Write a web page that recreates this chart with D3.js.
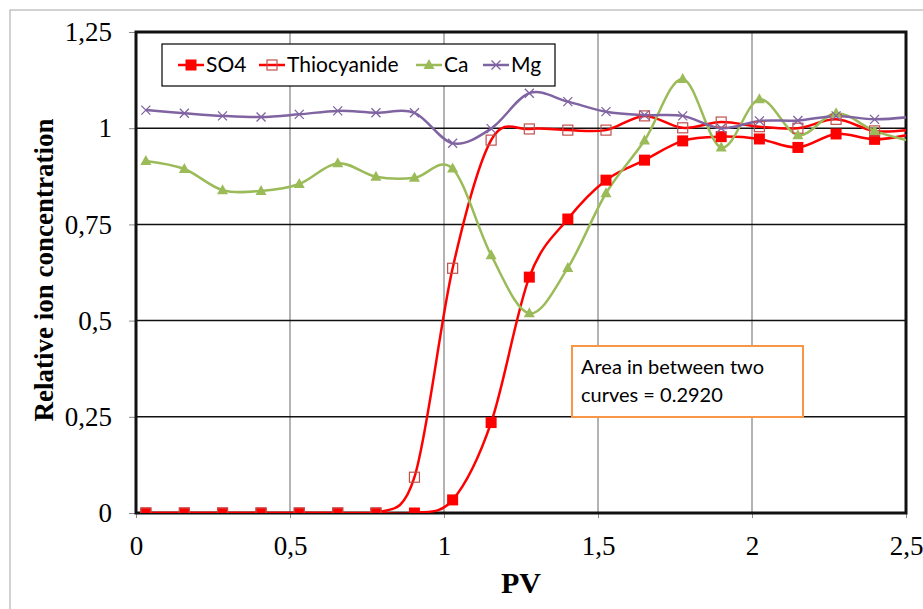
<!DOCTYPE html>
<html>
<head>
<meta charset="utf-8">
<script src="https://cdn.jsdelivr.net/npm/d3@7"></script>
<style>
  body { margin: 0; background: #fff; }
  svg { display: block; }
</style>
</head>
<body>
<svg id="chart" width="923" height="609"></svg>
<script>
// PV values of the sampled points (last one lies just past the axis end)
const pv = [0.032, 0.157, 0.281, 0.406, 0.530, 0.655, 0.779, 0.904, 1.028, 1.153,
            1.277, 1.402, 1.526, 1.651, 1.775, 1.900, 2.024, 2.149, 2.273, 2.398, 2.522];

const so4  = [0, 0, 0, 0, 0, 0, 0, 0, 0.034, 0.235, 0.613, 0.764, 0.865, 0.917, 0.967,
              0.978, 0.972, 0.950, 0.985, 0.971, 0.985];
const thio = [0, 0, 0, 0, 0, 0, 0, 0.093, 0.636, 0.969, 0.998, 0.995, 0.995, 1.032, 1.001,
              1.016, 1.004, 1.000, 1.023, 0.993, 0.997];
const ca   = [0.915, 0.894, 0.839, 0.837, 0.855, 0.909, 0.874, 0.871, 0.895, 0.670, 0.519,
              0.637, 0.831, 0.968, 1.128, 0.950, 1.075, 0.982, 1.039, 0.993, 0.965];
const mg   = [1.047, 1.039, 1.032, 1.029, 1.036, 1.045, 1.040, 1.040, 0.961, 0.999, 1.091,
              1.069, 1.043, 1.034, 1.032, 1.000, 1.019, 1.020, 1.032, 1.023, 1.030];

const xTicks = [0, 0.5, 1, 1.5, 2, 2.5];
const yTicks = [0, 0.25, 0.5, 0.75, 1, 1.25];
const fmt = d => String(d).replace('.', ',');

const series = [
    { name: 'SO4', values: so4, color: '#ff0000', marker: 'fsquare' },
    { name: 'Thiocyanide', values: thio, color: '#ff0000', marker: 'osquare' },
    { name: 'Ca', values: ca, color: '#9bbb59', marker: 'triangle' },
    { name: 'Mg', values: mg, color: '#8064a2', marker: 'cross' }
];

const svg = d3.select('#chart');
const x = d3.scaleLinear().domain([0, 2.5]).range([136, 906]);
const y = d3.scaleLinear().domain([0, 1.25]).range([513, 32]);

// outer frame
svg.append('rect').attr('x', 10).attr('y', 10).attr('width', 940).attr('height', 640)
    .attr('fill', 'none').attr('stroke', '#a6a6a6').attr('stroke-width', 1);

svg.append('clipPath').attr('id', 'plotclip')
    .append('rect').attr('x', x(0)).attr('y', y(1.25))
    .attr('width', x(2.5) - x(0)).attr('height', y(0) - y(1.25));

// gridlines
svg.append('g').selectAll('line').data(xTicks.slice(1, -1)).join('line')
    .attr('x1', d => x(d)).attr('x2', d => x(d))
    .attr('y1', y(1.25)).attr('y2', y(0))
    .attr('stroke', '#9a9a9a').attr('stroke-width', 1.5);
svg.append('g').selectAll('line').data(yTicks.slice(1, -1)).join('line')
    .attr('x1', x(0)).attr('x2', x(2.5))
    .attr('y1', d => y(d)).attr('y2', d => y(d))
    .attr('stroke', '#111').attr('stroke-width', 1.5);

// axes (ticks + labels)
const yAxis = svg.append('g').attr('transform', `translate(${x(0)},0)`)
    .call(d3.axisLeft(y).tickValues(yTicks).tickFormat(fmt).tickSize(7).tickPadding(17));
const xAxis = svg.append('g').attr('transform', `translate(0,${y(0)})`)
    .call(d3.axisBottom(x).tickValues(xTicks).tickFormat(fmt).tickSize(5).tickPadding(18));
[yAxis, xAxis].forEach(a => {
    a.select('.domain').remove();
    a.selectAll('.tick line').attr('stroke', '#888');
    a.selectAll('text').attr('font-family', '"Liberation Serif", serif')
        .attr('font-size', 27).attr('fill', '#000');
});

// plot border
svg.append('rect').attr('x', x(0)).attr('y', y(1.25))
    .attr('width', x(2.5) - x(0)).attr('height', y(0) - y(1.25))
    .attr('fill', 'none').attr('stroke', '#111').attr('stroke-width', 3);

// axis titles
svg.append('text').attr('x', 521).attr('y', 593).attr('text-anchor', 'middle')
    .attr('font-family', '"Liberation Serif", serif').attr('font-weight', 'bold')
    .attr('font-size', 30).text('PV');
svg.append('text').attr('transform', 'translate(53,270) rotate(-90)').attr('text-anchor', 'middle')
    .attr('font-family', '"Liberation Serif", serif').attr('font-weight', 'bold')
    .attr('font-size', 27).text('Relative ion concentration');

// lines and markers
const line = d3.line().x((d, i) => x(pv[i])).y(d => y(d)).curve(d3.curveCardinal.tension(0));
const plot = svg.append('g').attr('clip-path', 'url(#plotclip)');

function drawMarker(g, type, color, cx, cy) {
    if (type === 'fsquare') {
        g.append('rect').attr('x', cx - 5.5).attr('y', cy - 5.5).attr('width', 11).attr('height', 11)
            .attr('fill', color);
    } else if (type === 'osquare') {
        g.append('rect').attr('x', cx - 5).attr('y', cy - 5).attr('width', 10).attr('height', 10)
            .attr('fill', 'none').attr('stroke', '#c0504d').attr('stroke-width', 1.2);
    } else if (type === 'triangle') {
        g.append('path').attr('d', `M${cx},${cy - 6}L${cx + 5.5},${cy + 4}L${cx - 5.5},${cy + 4}Z`)
            .attr('fill', color);
    } else {
        g.append('path').attr('d', `M${cx - 4.5},${cy - 4.5}L${cx + 4.5},${cy + 4.5}M${cx - 4.5},${cy + 4.5}L${cx + 4.5},${cy - 4.5}`)
            .attr('stroke', color).attr('stroke-width', 1.3);
    }
}

series.forEach(s => {
    plot.append('path').datum(s.values).attr('d', line)
        .attr('fill', 'none').attr('stroke', s.color).attr('stroke-width', 2.5);
});
series.forEach(s => {
    const g = plot.append('g');
    s.values.forEach((v, i) => drawMarker(g, s.marker, s.color, x(pv[i]), y(v)));
});

// legend
const legend = svg.append('g');
legend.append('rect').attr('x', 162).attr('y', 44).attr('width', 393).attr('height', 42)
    .attr('fill', '#fff').attr('stroke', '#000').attr('stroke-width', 1.2);
const legX = [178, 259, 416, 483];
series.forEach((s, i) => {
    const lx = legX[i];
    legend.append('line').attr('x1', lx).attr('x2', lx + 26).attr('y1', 65).attr('y2', 65)
        .attr('stroke', s.color).attr('stroke-width', 2.5);
    drawMarker(legend, s.marker, s.color, lx + 13, 65);
    legend.append('text').attr('x', lx + 28).attr('y', 72)
        .attr('font-family', 'Lato, sans-serif').attr('font-size', 21).attr('fill', '#000')
        .text(s.name);
});

// annotation box
svg.append('rect').attr('x', 572).attr('y', 346).attr('width', 231).attr('height', 71)
    .attr('fill', '#fff').attr('stroke', '#f79646').attr('stroke-width', 2);
svg.append('text').attr('x', 581).attr('y', 374).attr('font-family', 'Lato, sans-serif')
    .attr('font-size', 20).attr('fill', '#000').text('Area in between two');
svg.append('text').attr('x', 581).attr('y', 402).attr('font-family', 'Lato, sans-serif')
    .attr('font-size', 20).attr('fill', '#000').text('curves = 0.2920');
</script>
</body>
</html>
